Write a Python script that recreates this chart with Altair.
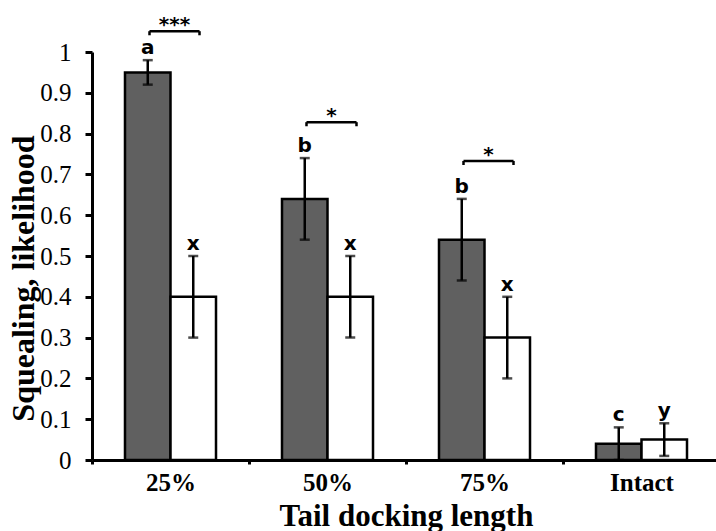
import altair as alt
import pandas as pd

categories = ["25%", "50%", "75%", "Intact"]
series = ["Group A", "Group B"]
gray_mean = [0.95, 0.64, 0.54, 0.04]
gray_low = [0.92, 0.54, 0.44, 0.00]
gray_high = [0.98, 0.74, 0.64, 0.08]
white_mean = [0.40, 0.40, 0.30, 0.05]
white_low = [0.30, 0.30, 0.20, 0.01]
white_high = [0.50, 0.50, 0.40, 0.09]
gray_letters = ["a", "b", "b", "c"]
white_letters = ["x", "x", "x", "y"]
y_ticks = [0, 0.1, 0.2, 0.3, 0.4, 0.5, 0.6, 0.7, 0.8, 0.9, 1.0]

bracket_categories = ["25%", "50%", "75%"]
bracket_level = [1.051, 0.828, 0.733]
bracket_drop = [1.041, 0.818, 0.723]
bracket_stars = ["***", "*", "*"]

rows = []
for i, c in enumerate(categories):
    rows.append(dict(cat=c, grp=series[0], mean=gray_mean[i], low=gray_low[i],
                     high=gray_high[i], letter=gray_letters[i]))
    rows.append(dict(cat=c, grp=series[1], mean=white_mean[i], low=white_low[i],
                     high=white_high[i], letter=white_letters[i]))
df = pd.DataFrame(rows)
br = pd.DataFrame(dict(cat=bracket_categories, level=bracket_level,
                       drop=bracket_drop, stars=bracket_stars))

SERIF = "Liberation Serif"
SANS = "DejaVu Sans"

x_enc = alt.X(
    "cat:N", sort=categories,
    scale=alt.Scale(range=[0, 628], paddingInner=0, paddingOuter=0),
    axis=alt.Axis(
        labelFont=SERIF, labelFontSize=25, labelFontWeight="bold", labelColor="black",
        labelAngle=0, labelPadding=6, tickBand="extent", tickSize=4, tickWidth=3,
        tickColor="black", domainWidth=3, domainColor="black",
        titleFont=SERIF, titleFontSize=31, titleFontWeight="bold", titleColor="black",
        titleY=65, titleBaseline="alphabetic",
    ),
    title="Tail docking length",
)
xo_enc = alt.XOffset("grp:N", sort=series,
                     scale=alt.Scale(paddingInner=0, paddingOuter=0.725))
y_scale = alt.Scale(domain=[0, 1], nice=False, zero=True)
y_axis = alt.Axis(
    values=y_ticks, format=".1~f", grid=False,
    labelFont=SERIF, labelFontSize=25, labelColor="black", labelPadding=14,
    tickSize=7, tickWidth=3, tickColor="black", domainWidth=3, domainColor="black",
    titleFont=SERIF, titleFontSize=32, titleFontWeight="bold", titleColor="black",
    titleX=-59, titleY=226, titleBaseline="alphabetic", titleAlign="center", titleAngle=-90,
)

base = alt.Chart(df)

bars = base.mark_bar(stroke="black", strokeWidth=2.5).encode(
    x=x_enc, xOffset=xo_enc,
    y=alt.Y("mean:Q", scale=y_scale, axis=y_axis, title="Squealing, likelihood"),
    color=alt.Color("grp:N", scale=alt.Scale(domain=series, range=["#606060", "#ffffff"]),
                    legend=None),
)
stems = base.mark_rule(color="black", strokeWidth=2.5).encode(
    x=alt.X("cat:N", sort=categories), xOffset=alt.XOffset("grp:N", sort=series),
    y="low:Q", y2="high:Q",
)
cap_lo = base.mark_tick(color="black", size=10, thickness=2.5, orient="horizontal").encode(
    x=alt.X("cat:N", sort=categories), xOffset=alt.XOffset("grp:N", sort=series),
    y="low:Q",
)
cap_hi = base.mark_tick(color="black", size=10, thickness=2.5, orient="horizontal").encode(
    x=alt.X("cat:N", sort=categories), xOffset=alt.XOffset("grp:N", sort=series),
    y="high:Q",
)
letters = base.mark_text(font=SANS, fontWeight="bold", fontSize=20, baseline="alphabetic",
                         dy=-6, color="black").encode(
    x=alt.X("cat:N", sort=categories), xOffset=alt.XOffset("grp:N", sort=series),
    y="high:Q", text="letter:N",
)

bchart = alt.Chart(br)
b_line = bchart.mark_rule(color="black", strokeWidth=2.5, xOffset=-21, x2Offset=29).encode(
    x=alt.X("cat:N", sort=categories), x2="cat:N", y="level:Q",
)
b_left = bchart.mark_rule(color="black", strokeWidth=2.5, xOffset=-21).encode(
    x=alt.X("cat:N", sort=categories), y="level:Q", y2="drop:Q",
)
b_right = bchart.mark_rule(color="black", strokeWidth=2.5, xOffset=29).encode(
    x=alt.X("cat:N", sort=categories), y="level:Q", y2="drop:Q",
)
b_stars = bchart.mark_text(font=SANS, fontWeight="bold", fontSize=20, baseline="alphabetic",
                           dx=4, dy=0, color="black").encode(
    x=alt.X("cat:N", sort=categories), y="level:Q", text="stars:N",
)

chart = alt.layer(bars, stems, cap_lo, cap_hi, letters, b_line, b_left, b_right, b_stars).properties(
    width=624, height=408,
    autosize=alt.AutoSizeParams(type="none"),
    padding={"left": 92, "top": 52, "right": 0, "bottom": 71},
    background="white",
).configure_view(stroke=None)

chart.save("out.html", embed_options={"renderer": "svg", "actions": False})
